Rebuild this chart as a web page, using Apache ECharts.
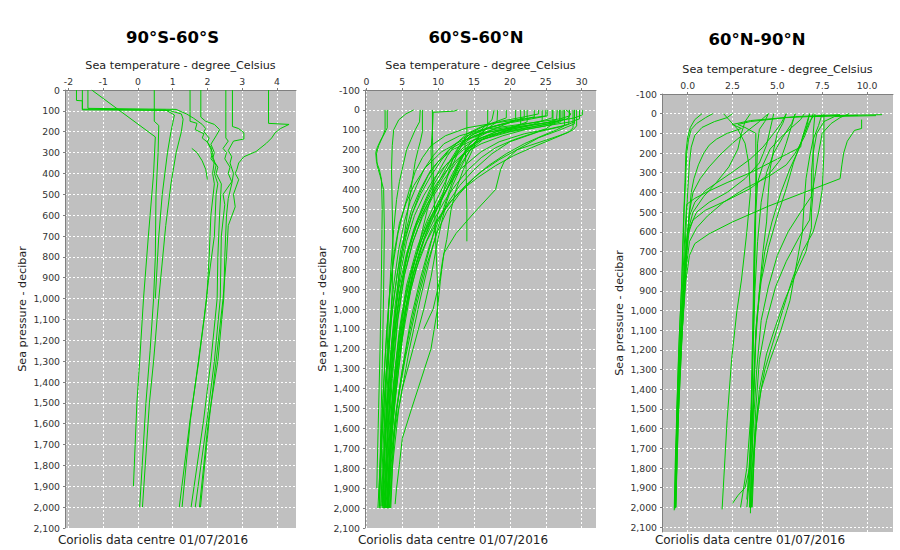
<!DOCTYPE html>
<html><head><meta charset="utf-8">
<script src="https://cdn.jsdelivr.net/npm/echarts/dist/echarts.min.js"></script>
<style>html,body{margin:0;padding:0;background:#fff}#c{width:900px;height:550px}</style>
</head><body><div id="c"></div>
<script>
// ---------- tick labels ----------
const southTempTicks = [-2, -1, 0, 1, 2, 3, 4];
const midTempTicks = [0, 5, 10, 15, 20, 25, 30];
const northTempTicks = [0, 2.5, 5, 7.5, 10];
const pressureTicksSouth = [0,100,200,300,400,500,600,700,800,900,1000,1100,1200,1300,1400,1500,1600,1700,1800,1900,2000,2100];
const pressureTicks = [-100,0,100,200,300,400,500,600,700,800,900,1000,1100,1200,1300,1400,1500,1600,1700,1800,1900,2000,2100];
const panelTitles = ['90°S-60°S', '60°S-60°N', '60°N-90°N'];

// ---------- profiles: [temperature, pressure] ----------
const southProfiles = [
 [[-1.33,0],[0.5,225],[0.45,400],[0.3,700],[0.16,1000],[0.05,1300],[-0.03,1500],[-0.08,1700],[-0.13,1900]],
 [[0.47,0],[0.47,150],[0.6,170],[0.58,300],[0.52,500],[0.5,800],[0.45,1000],[0.35,1250],[0.23,1500],[0.05,2000]],
 [[-1.77,0],[-1.77,50],[-1.6,52],[-1.6,95],[0.9,98],[1.25,115],[1.3,140],[1.25,200],[1.1,300],[0.95,450],[0.8,650],[0.6,1000],[0.45,1300],[0.33,1500],[0.13,2000]],
 [[-1.6,0],[-1.6,92],[0.8,96],[1.05,120],[0.95,200],[0.85,300],[0.7,500],[0.6,700],[0.5,1000]],
 [[-1.44,0],[-1.44,88],[1.1,93],[1.4,115],[1.6,135],[1.85,165],[1.95,185],[1.9,200],[2.05,230],[2.0,250],[2.12,280],[2.1,300],[2.2,340],[2.15,400],[2.2,450],[2.1,600],[2.05,800],[1.98,1000],[1.75,1300],[1.5,1583],[1.19,2000]],
 [[1.5,0],[1.5,150],[1.7,160],[1.65,190],[1.9,210],[1.85,230],[2.0,250],[2.15,300],[2.1,330],[2.25,360],[2.2,400],[2.3,450],[2.25,500],[2.2,700],[2.03,912],[1.9,1100],[1.7,1350],[1.51,1583],[1.27,2000]],
 [[1.81,0],[1.81,130],[1.95,150],[2.2,165],[2.35,190],[2.25,220],[2.1,260],[2.2,300],[2.15,330],[2.3,370],[2.25,400],[2.4,450],[2.35,600],[2.3,800],[2.28,1000],[2.1,1300],[1.89,1583],[1.53,2000]],
 [[2.53,0],[2.53,230],[2.6,245],[2.45,280],[2.55,300],[2.5,330],[2.65,370],[2.6,400],[2.7,440],[2.45,500],[2.5,550],[2.4,700],[2.37,1000],[2.2,1300],[1.99,1583],[1.65,2000]],
 [[2.72,0],[2.72,175],[2.9,185],[3.05,205],[3.05,235],[2.75,245],[2.6,290],[2.7,320],[2.65,350],[2.75,400],[2.7,450],[2.6,520],[2.55,600],[2.5,800],[2.47,1000],[2.3,1300],[2.03,1583],[1.77,2000]],
 [[3.76,0],[3.76,160],[4.35,165],[4.1,185],[3.95,205],[3.85,230],[3.7,255],[3.4,295],[3.05,320],[2.9,350],[2.85,380],[2.8,400],[2.9,430],[2.75,500],[2.8,560],[2.6,650],[2.55,800],[2.45,1000],[2.25,1300],[2.05,1583],[1.8,2000]],
 [[1.55,280],[1.7,300],[1.85,340],[1.95,380],[2.0,430]]
];

const midProfiles = [
 [[2.9,0],[2.9,90],[2.5,120],[2.0,150],[1.5,190],[1.3,215],[1.4,260],[1.8,300],[2.1,350],[2.2,500],[2.1,800],[1.9,1200],[1.7,1500],[1.5,1800],[1.45,1900]],
 [[2.6,0],[2.6,100],[2.2,140],[1.7,180],[1.4,220],[1.5,280],[1.9,330],[2.4,400],[2.5,600],[2.4,900],[2.2,1300],[2.0,1600],[1.8,1960]],
 [[6.6,0],[5.5,20],[4.5,50],[3.8,100],[3.6,180],[3.5,300],[3.6,500],[3.7,700],[3.6,900],[3.3,1100],[2.9,1400],[2.5,1700],[2.2,1990]],
 [[7.5,0],[7.4,60],[6.8,100],[6.2,150],[5.6,200],[5.1,280],[4.6,360],[4.2,450],[3.8,600],[3.4,800],[3.1,1000],[2.8,1300],[2.5,1600],[2.3,2000]],
 [[7.8,0],[7.8,110],[7.5,160],[7.2,200],[6.8,260],[6.5,330],[6.2,400],[5.8,500],[5.2,650],[4.6,800],[4.1,1000],[3.5,1300],[3.0,1600],[2.6,2000]],
 [[12.7,0],[12.2,6],[9.3,12],[9.2,100],[9.0,200],[9.1,300],[9.2,420],[8.5,500],[7.5,650],[6.5,800],[5.5,1000],[4.5,1300],[3.6,1600],[3.0,2000]],
 [[14.0,0],[14.0,130],[13.7,140],[13.9,300],[14.0,500],[14.0,660]],
 [[9.2,0],[9.2,130],[9.3,300],[9.5,500],[9.7,700],[9.9,860],[9.9,1100]],
 [[29.0,0],[29.0,70],[27,100],[24,140],[21,200],[19.2,260],[18.7,300],[18.0,400],[15,517],[12.5,620],[10.8,720],[10.3,860],[9.9,1000],[9.0,1200],[8.1,1300],[6.3,1500],[5,1650],[4.6,1780],[4.2,1900],[4,1980]],
 [[17.8,0],[17.5,50],[16,100],[14.8,200],[13.5,300],[12.5,400],[11.8,500],[11.2,650],[10.6,760],[10.2,860],[9.3,1000],[8.0,1100]],
 [[30.1,0],[30.1,25],[29,40],[26,60],[21,85],[17,110],[14,150],[11.5,200],[9,300],[7.5,400],[6.3,500],[4.8,700],[3.6,1000],[2.8,1300],[2.2,1600],[1.8,2000]],
 [[29.7,0],[29.7,45],[28.5,60],[25,80],[20,110],[16,150],[13.5,200],[11,280],[9.3,380],[8,480],[6.6,600],[5.5,750],[4.3,1000],[3.3,1300],[2.7,1600],[2.2,1990]],
 [[29,0],[29,60],[28,75],[25.5,95],[22,120],[18.5,160],[16,210],[13,300],[11.5,380],[10,470],[8.6,560],[7.2,700],[5.6,900],[4.5,1150],[3.5,1500],[2.9,2000]],
 [[28.3,0],[28.2,70],[27,85],[24,110],[20,160],[17.5,220],[15,300],[13,380],[11.5,460],[10,560],[8.8,680],[7.5,850],[6.2,1050],[5,1300],[4,1550],[3.4,1800],[3.1,2000]],
 [[27.6,0],[27.6,80],[26.5,100],[24.5,130],[22,170],[19.5,220],[17,280],[15,340],[13,420],[11.2,510],[9.8,620],[8.4,780],[7,980],[5.4,1250],[4.2,1500],[3.4,1750],[3.0,2000]],
 [[27.1,0],[27.1,60],[25,80],[22,100],[19,130],[16,170],[13.5,220],[11.5,290],[9.8,370],[8.4,460],[7.1,560],[5.8,720],[4.6,920],[3.7,1200],[3,1500],[2.5,2000]],
 [[26.6,0],[26.5,50],[25,65],[22,85],[18,110],[15.5,150],[14,200],[13,260],[12,340],[10.8,430],[9.4,530],[8,650],[6.5,830],[5.3,1050],[4.2,1350],[3.4,1700],[2.9,2000]],
 [[25.9,0],[25.9,40],[24.5,55],[21,80],[17.5,100],[15,130],[13.5,170],[12.5,220],[11.3,300],[10,380],[8.5,470],[7,580],[5.6,720],[4.5,900],[3.6,1150],[2.9,1450],[2.4,1750],[2.0,1990]],
 [[25.2,0],[25.2,30],[23,45],[20,65],[17,90],[15,120],[13.5,160],[12.8,210],[12,280],[11,360],[9.8,450],[8.4,560],[7,700],[5.6,880],[4.6,1100],[3.7,1400],[3,1750],[2.6,2000]],
 [[24.5,0],[24.5,55],[23,75],[20,100],[17,130],[15,170],[13.5,230],[12.5,310],[11.6,400],[10.8,490],[9.9,600],[8.8,750],[7.5,950],[6,1200],[4.5,1500],[3.6,1800],[3.3,2000]],
 [[23.4,0],[23.4,35],[21.5,50],[19,70],[16.5,95],[14,130],[12,180],[10.5,250],[9,330],[7.6,420],[6.4,520],[5.3,650],[4.3,820],[3.5,1050],[2.8,1350],[2.3,1700],[2.0,2000]],
 [[22.4,0],[22.4,60],[21,80],[18.5,105],[16,140],[14.2,190],[13,250],[12,320],[10.9,400],[9.5,500],[8,620],[6.5,780],[5.3,980],[4.3,1250],[3.4,1600],[2.8,2000]],
 [[20.8,0],[20.8,50],[19.5,70],[17.5,100],[15.5,140],[13.5,190],[11.5,260],[9.5,340],[8,430],[6.7,530],[5.6,660],[4.7,830],[3.9,1050],[3.2,1350],[2.6,1700],[2.2,1970]],
 [[18.3,0],[18.2,60],[17,90],[15.5,130],[14.2,180],[13.2,240],[12.3,310],[11.3,390],[10.1,480],[8.7,580],[7.3,720],[6,890],[4.9,1100],[3.9,1400],[3.2,1750],[2.7,2000]],
 [[16.9,0],[16.9,80],[16,120],[15,170],[14,230],[13,300],[12,380],[11.2,460],[10.5,560],[9.8,680],[9,840],[8,1000],[6.5,1200],[5,1400],[4,1600],[3.5,1800],[3.2,2000]],
 [[28.8,0],[28.8,90],[28.2,110],[27,130],[25,160],[23,190],[20.5,230],[18,280],[15.5,340],[13,410],[11,490],[9.2,590],[7.5,730],[6.2,900],[5,1150],[4,1450],[3.3,1750],[3,2000]],
 [[27.8,0],[28.5,20],[28,45],[26,60],[23,75],[19.5,95],[16,120],[13,160],[10.5,210],[8.2,290],[6.6,380],[5.5,470],[4.6,570],[3.9,710],[3.3,890],[2.8,1120],[2.3,1450],[1.9,1800],[1.6,2000]],
 [[26.0,0],[26,70],[25,95],[23,120],[20.5,150],[18,190],[16,240],[14.2,300],[12.6,370],[11,450],[9.6,540],[8.1,650],[6.7,800],[5.4,1000],[4.4,1250],[3.5,1600],[2.9,2000]],
 [[24,0],[24,20],[22,35],[19,55],[16.5,80],[14.8,110],[13.6,150],[12.6,200],[11.6,260],[10.4,340],[9.1,430],[7.8,530],[6.5,660],[5.3,830],[4.4,1050],[3.6,1350],[3,1700],[2.5,2000]],
 [[21.5,0],[21.5,70],[20.5,90],[18.5,115],[16.2,150],[14.5,200],[13.2,270],[12,350],[10.6,440],[9.1,540],[7.6,660],[6.2,820],[5,1030],[4,1300],[3.2,1650],[2.6,2000]],
 [[28.3,0],[28.3,30],[27,45],[24,60],[20,80],[16,100],[13,130],[10.8,170],[9.3,230],[8,300],[7,380],[6.1,460],[5.3,560],[4.5,700],[3.8,880],[3.2,1100],[2.6,1400],[2.1,1700],[1.8,1990]],
 [[26.9,0],[26.9,55],[25.5,70],[22.5,90],[19,115],[16,150],[14,200],[12.4,270],[10.8,350],[9.2,440],[7.8,540],[6.4,670],[5.2,840],[4.3,1060],[3.5,1350],[2.9,1700],[2.4,2000]],
 [[19.5,0],[19.5,40],[18,60],[16,85],[14,120],[12.5,170],[11.3,230],[10.2,300],[9.1,380],[8,470],[6.9,570],[5.8,700],[4.9,870],[4.1,1080],[3.4,1350],[2.8,1700],[2.3,2000]],
 [[29.3,0],[29.3,80],[28.8,100],[28,115],[26,140],[23.5,170],[21,200],[18.5,250],[16,310],[13.8,380],[11.8,460],[10,550],[8.4,660],[6.9,800],[5.6,990],[4.5,1230],[3.6,1550],[3,2000]],
 [[25,0],[25,30],[22,45],[18,65],[14,90],[11,130],[9,180],[7.8,240],[6.8,310],[6,400],[5.2,500],[4.4,620],[3.7,780],[3.1,980],[2.6,1250],[2.1,1600],[1.7,1950]],
 [[27.4,0],[27.4,50],[26,65],[23,85],[19,110],[15,150],[12,200],[10,260],[8.6,330],[7.4,420],[6.4,520],[5.5,640],[4.7,790],[4.0,980],[3.3,1250],[2.7,1600],[2.3,1990]],
 [[22,0],[22,40],[20,60],[17,90],[14.5,130],[13,180],[12,250],[11.3,330],[10.7,420],[10,520],[9.2,640],[8.2,780],[7,950],[5.8,1150],[4.6,1400],[3.8,1650],[3.4,2000]]
];

const northProfiles = [
 [[1.4,0],[1.0,20],[0.5,50],[0.2,80],[0.05,130],[-0.05,200],[-0.1,300],[-0.2,500],[-0.3,800],[-0.45,1100],[-0.6,1500],[-0.7,1800],[-0.75,2015]],
 [[0.8,0],[0.4,30],[0.15,70],[0.0,120],[-0.1,200],[-0.15,350],[-0.25,600],[-0.35,900],[-0.5,1200],[-0.6,1500],[-0.68,2000]],
 [[2.5,0],[2.2,20],[1.5,40],[0.8,70],[0.4,110],[0.2,170],[0.1,250],[0.0,400],[-0.15,700],[-0.3,1000],[-0.5,1400],[-0.62,1700],[-0.7,2000]],
 [[8.5,5],[6,15],[3.5,35],[2.5,55],[3.0,75],[2.2,100],[1.6,130],[1.2,160],[0.9,200],[0.6,260],[0.35,330],[0.2,400],[0.05,550],[-0.1,800],[-0.3,1100],[-0.55,1500],[-0.65,2000]],
 [[6.8,0],[6.6,60],[6.4,120],[6.3,170],[5,230],[3.5,300],[2.2,350],[1.25,390],[0.4,430],[-0.05,460],[-0.15,600],[-0.3,900],[-0.5,1300],[-0.65,1700],[-0.72,2000]],
 [[5.5,0],[5.2,50],[4.8,100],[4.2,170],[3.5,230],[2.6,290],[1.8,340],[1.0,390],[0.4,450],[0.1,520],[-0.1,700],[-0.3,1000],[-0.5,1400],[-0.65,1800],[-0.7,2000]],
 [[4.5,0],[4.0,40],[3.3,90],[2.5,150],[1.8,210],[1.2,270],[0.7,330],[0.3,400],[0.1,500],[-0.1,700],[-0.3,1000],[-0.5,1400],[-0.7,2000]],
 [[9.7,30],[9.7,75],[9.3,85],[8.9,140],[8.7,200],[8.6,260],[8.5,330],[6.5,400],[4.5,470],[2.5,550],[1.2,610],[0.4,660],[0.1,720],[-0.1,850],[-0.3,1100],[-0.5,1500],[-0.68,2000]],
 [[6.0,0],[5.8,60],[5.5,150],[5.2,230],[4.6,300],[3.5,380],[2.2,440],[1.0,490],[0.3,540],[0.0,620],[-0.2,850],[-0.4,1200],[-0.6,1600],[-0.7,2000]],
 [[4.8,0],[4.6,80],[4.4,160],[4.0,250],[3.2,330],[2.2,400],[1.2,450],[0.5,500],[0.1,580],[-0.1,750],[-0.3,1050],[-0.55,1500],[-0.7,2000]],
 [[3.5,0],[3.2,40],[3.0,100],[2.8,180],[2.3,270],[1.6,350],[0.9,420],[0.3,500],[0.0,600],[-0.2,800],[-0.4,1150],[-0.6,1600],[-0.72,2010]],
 [[7.0,0],[6.8,50],[6.5,120],[6.0,200],[5.5,260],[4.5,320],[3.2,380],[2.0,450],[1.1,520],[0.5,580],[0.1,650],[-0.1,800],[-0.3,1100],[-0.5,1500],[-0.66,2000]],
 [[10.84,5],[8.0,10],[5.5,20],[3.5,40],[2.8,55],[3.2,70],[3.8,100],[3.8,200],[3.8,400],[3.7,700],[3.65,1000],[3.6,1300],[3.5,1600],[3.45,2000]],
 [[4.5,0],[4.3,40],[4.0,80],[3.9,150],[3.85,300],[3.75,600],[3.7,900],[3.6,1200],[3.55,1600],[3.5,2030]],
 [[6.0,0],[5.8,50],[5.3,120],[4.8,200],[4.4,300],[4.1,450],[3.9,650],[3.75,900],[3.65,1200],[3.55,1500],[3.3,1800],[2.95,2000]],
 [[9.5,8],[7.0,15],[6.8,40],[6.5,100],[6.2,180],[5.7,280],[5.2,400],[4.7,550],[4.3,700],[4.0,900],[3.8,1150],[3.7,1400],[3.6,1700],[3.4,1900],[3.3,2000]],
 [[7.5,0],[7.3,60],[7.0,130],[6.8,220],[6.6,330],[6.5,450],[6.4,600],[6.1,750],[5.7,950],[5.2,1100],[4.6,1250],[4.1,1400],[3.8,1600],[3.6,1800],[3.5,2000]],
 [[7.1,0],[7.0,100],[7.0,250],[7.0,400],[6.9,500],[6.9,580],[6.6,700],[6.0,820],[5.4,950],[4.9,1080],[4.4,1220],[4.0,1400],[3.75,1650],[3.6,2000]],
 [[10.5,10],[8.2,14],[7.6,40],[7.2,100],[7.0,200],[6.9,300],[6.9,430],[6.8,540],[6.2,630],[5.5,750],[4.9,880],[4.4,1050],[4.0,1250],[3.8,1500],[3.65,1800],[3.55,2000]],
 [[5.5,0],[5.3,50],[5.0,100],[4.8,180],[4.6,280],[4.5,400],[4.4,550],[4.2,700],[4.0,900],[3.8,1100],[3.7,1400],[3.5,1700],[3.4,1900]],
 [[6.5,0],[6.3,30],[5.8,70],[5.2,120],[4.6,180],[4.2,260],[3.9,350],[3.8,500],[3.75,750],[3.7,1000],[3.6,1350],[3.5,1700],[3.3,1960]],
 [[6.8,0],[6.6,80],[6.3,150],[5.9,250],[5.5,380],[5.0,520],[4.5,680],[4.1,850],[3.85,1050],[3.7,1300],[3.6,1600],[3.45,1800],[3.2,1900],[2.8,1940],[2.5,1980]],
 [[9.0,0],[8.5,20],[8.0,50],[7.5,100],[7.3,200],[7.1,320],[6.9,420],[6.3,500],[5.6,600],[5.0,720],[4.5,880],[4.1,1050],[3.85,1300],[3.65,1600],[3.5,2000]],
 [[7.6,0],[7.6,50],[7.6,200],[7.5,390],[7.3,500],[7.0,600],[6.4,700],[5.8,850],[5.3,1000],[4.8,1150],[4.3,1300],[3.9,1500],[3.7,1750],[3.55,2000]],
 [[2.0,0],[2.3,30],[2.8,80],[3.2,150],[3.4,250],[3.5,400],[3.3,600],[3.0,845],[2.75,1000],[2.45,1250],[2.2,1557],[2.05,1800],[1.92,2010]]
];

// ---------- chart ----------
const FONT = 'DejaVu Sans';
const GREEN = '#00cc00';
const fmtPressure = v => Number(v).toLocaleString('en-US');

function xAxisCfg(gridIndex, min, max, ticks, fmt) {
  return {
    type: 'value', gridIndex, position: 'top', min, max,
    name: 'Sea temperature - degree_Celsius', nameLocation: 'middle', nameGap: 19,
    nameTextStyle: { fontFamily: FONT, fontSize: 11.2, color: '#222' },
    axisLine: { show: true, onZero: false, lineStyle: { color: '#808080', width: 1 } },
    axisTick: { show: true, length: 2, customValues: ticks, lineStyle: { color: '#808080' } },
    axisLabel: { customValues: ticks, formatter: fmt, fontFamily: FONT, fontSize: 9.3, color: '#333', margin: 4 },
    splitLine: { show: true, lineStyle: { color: '#ffffff', type: [2, 2], width: 1 } }
  };
}
function yAxisCfg(gridIndex, min, max, ticks) {
  return {
    type: 'value', gridIndex, inverse: true, min, max,
    name: 'Sea pressure - decibar', nameLocation: 'middle', nameGap: 37, nameRotate: 90,
    nameTextStyle: { fontFamily: FONT, fontSize: 11.2, color: '#222' },
    axisLine: { show: true, onZero: false, lineStyle: { color: '#808080', width: 1 } },
    axisTick: { show: true, length: 2, customValues: ticks, lineStyle: { color: '#808080' } },
    axisLabel: { customValues: ticks, formatter: fmtPressure, fontFamily: FONT, fontSize: 9.3, color: '#333', margin: 5 },
    splitLine: { show: true, lineStyle: { color: '#ffffff', type: [2, 2], width: 1 } }
  };
}

const series = [];
[southProfiles, midProfiles, northProfiles].forEach((profiles, gi) => {
  profiles.forEach(p => series.push({
    type: 'line', xAxisIndex: gi, yAxisIndex: gi, data: p,
    showSymbol: false, symbol: 'none', silent: true, animation: false, clip: true,
    lineStyle: { color: GREEN, width: 1 }
  }));
});

const titleX = [172.5, 476, 757];
const titleY = [37, 37, 39];
const footX = [153, 453, 750];
const graphics = [];
panelTitles.forEach((t, i) => {
  graphics.push({ type: 'text', x: titleX[i], y: titleY[i], style: { text: t, fontFamily: FONT, fontWeight: 'bold', fontSize: 16.5, fill: '#000', textAlign: 'center', textVerticalAlign: 'middle' } });
  graphics.push({ type: 'text', x: footX[i], y: 540, style: { text: 'Coriolis data centre 01/07/2016', fontFamily: FONT, fontSize: 12, fill: '#222', textAlign: 'center', textVerticalAlign: 'middle' } });
});

const chart = echarts.init(document.getElementById('c'), null, { renderer: 'svg' });
chart.setOption({
  animation: false,
  backgroundColor: '#ffffff',
  grid: [
    { left: 65, top: 90, width: 231, height: 438, show: true, backgroundColor: '#c0c0c0', borderWidth: 0 },
    { left: 365, top: 90, width: 231, height: 438, show: true, backgroundColor: '#c0c0c0', borderWidth: 0 },
    { left: 662, top: 94, width: 231, height: 438, show: true, backgroundColor: '#c0c0c0', borderWidth: 0 }
  ],
  xAxis: [
    xAxisCfg(0, -2.1, 4.55, southTempTicks, v => String(Math.round(v))),
    xAxisCfg(1, -0.2, 32, midTempTicks, v => String(Math.round(v))),
    xAxisCfg(2, -1.43, 11.45, northTempTicks, v => Number(v).toFixed(1))
  ],
  yAxis: [
    yAxisCfg(0, 0, 2100, pressureTicksSouth),
    yAxisCfg(1, -100, 2100, pressureTicks),
    yAxisCfg(2, -100, 2125, pressureTicks)
  ],
  graphic: graphics,
  series
});
</script></body></html>
